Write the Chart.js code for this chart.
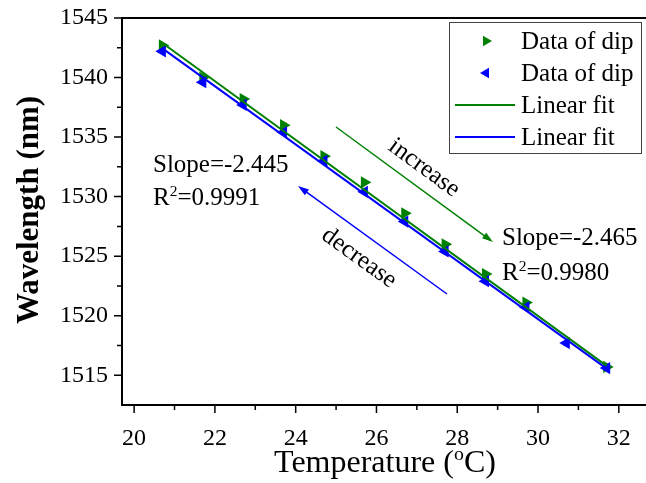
<!DOCTYPE html>
<html>
<head>
<meta charset="utf-8">
<script src="https://cdn.jsdelivr.net/npm/chart.js@4"></script>
<style>
  body { margin: 0; background: #fff; }
  #wrap { width: 646px; height: 483px; }
</style>
</head>
<body>
<div id="wrap"><canvas id="grafico" width="646" height="483"></canvas></div>
<script>
// temperatures (°C) and dip wavelengths (nm)
const temps = [20.7, 21.7, 22.7, 23.7, 24.7, 25.7, 26.7, 27.7, 28.7, 29.7, 30.7, 31.7]
const dipUp = [1542.7, 1540.0, 1538.2, 1536.0, 1533.4, 1531.2, 1528.6, 1526.0, 1523.5, 1521.1, null, 1515.7]
const dipDown = [1542.2, 1539.6, 1537.7, 1535.4, 1533.0, 1530.4, 1527.9, 1525.4, 1522.9, 1520.7, 1517.7, 1515.6]

// linear fits: slope and value at the first temperature
const slopeUp = -2.465
const slopeDown = -2.445
const fitStartUp = 1542.9
const fitStartDown = 1542.45
const r2Up = '0.9980'
const r2Down = '0.9991'

const xTicks = [20, 22, 24, 26, 28, 30, 32]
const xMinor = [21, 23, 25, 27, 29, 31]
const yTicks = [1515, 1520, 1525, 1530, 1535, 1540, 1545]
const yMinor = [1517.5, 1522.5, 1527.5, 1532.5, 1537.5, 1542.5]

const legendLabels = ['Data of dip', 'Data of dip', 'Linear fit', 'Linear fit']

const GREEN = 'rgb(0,128,0)'
const BLUE = 'rgb(0,0,255)'
const SERIF = "'Liberation Serif', 'Times New Roman', serif"

const pts = (ys) => temps.map((t, i) => ({ x: t, y: ys[i] })).filter(p => p.y !== null)
const fitLine = (start, slope) => {
    const t0 = temps[0], t1 = temps[temps.length - 1]
    return [{ x: t0, y: start }, { x: t1, y: start + slope * (t1 - t0) }]
}

// text with superscript pieces, e.g. R^2
const drawRich = (ctx, parts, x, y, size) => {
    let cx = x
    parts.forEach(p => {
        const s = p.sup ? size * 0.62 : size
        ctx.font = s + 'px ' + SERIF
        ctx.fillText(p.t, cx, p.sup ? y - size * 0.38 : y)
        cx += ctx.measureText(p.t).width
    })
    return cx - x
}
const richWidth = (ctx, parts, size) => {
    let w = 0
    parts.forEach(p => {
        ctx.font = (p.sup ? size * 0.62 : size) + 'px ' + SERIF
        w += ctx.measureText(p.t).width
    })
    return w
}

const arrow = (ctx, x0, y0, x1, y1, color) => {
    const a = Math.atan2(y1 - y0, x1 - x0)
    ctx.strokeStyle = color
    ctx.fillStyle = color
    ctx.lineWidth = 1.5
    ctx.beginPath()
    ctx.moveTo(x0, y0)
    ctx.lineTo(x1 - 8 * Math.cos(a), y1 - 8 * Math.sin(a))
    ctx.stroke()
    ctx.beginPath()
    ctx.moveTo(x1, y1)
    ctx.lineTo(x1 - 11 * Math.cos(a) + 3.5 * Math.sin(a), y1 - 11 * Math.sin(a) - 3.5 * Math.cos(a))
    ctx.lineTo(x1 - 11 * Math.cos(a) - 3.5 * Math.sin(a), y1 - 11 * Math.sin(a) + 3.5 * Math.cos(a))
    ctx.closePath()
    ctx.fill()
}

const rotatedText = (ctx, text, x, y, angle, font) => {
    ctx.save()
    ctx.translate(x, y)
    ctx.rotate(angle)
    ctx.font = font
    ctx.textAlign = 'center'
    ctx.textBaseline = 'middle'
    ctx.fillText(text, 0, 0)
    ctx.restore()
}

const decoracao = {
    id: 'decoracao',
    afterDraw(chart) {
        const ctx = chart.ctx
        const xs = chart.scales.x, ys = chart.scales.y
        const area = chart.chartArea
        ctx.save()
        ctx.fillStyle = '#000'
        ctx.strokeStyle = '#000'

        // top frame, and both horizontal lines run on to the page edge
        ctx.lineWidth = 2
        ctx.beginPath()
        ctx.moveTo(area.left, area.top)
        ctx.lineTo(chart.width, area.top)
        ctx.moveTo(area.right - 1, area.bottom)
        ctx.lineTo(chart.width, area.bottom)
        ctx.stroke()

        // outward ticks
        ctx.lineWidth = 1.5
        ctx.beginPath()
        xTicks.forEach(v => { const p = xs.getPixelForValue(v); ctx.moveTo(p, area.bottom); ctx.lineTo(p, area.bottom + 8) })
        xMinor.forEach(v => { const p = xs.getPixelForValue(v); ctx.moveTo(p, area.bottom); ctx.lineTo(p, area.bottom + 5) })
        yTicks.forEach(v => { const p = ys.getPixelForValue(v); ctx.moveTo(area.left, p); ctx.lineTo(area.left - 8, p) })
        yMinor.forEach(v => { const p = ys.getPixelForValue(v); ctx.moveTo(area.left, p); ctx.lineTo(area.left - 5, p) })
        ctx.stroke()

        // axis titles
        ctx.textBaseline = 'alphabetic'
        const tParts = [{ t: 'Temperature (' }, { t: 'o', sup: true }, { t: 'C)' }]
        const tw = richWidth(ctx, tParts, 32)
        drawRich(ctx, tParts, 385 - tw / 2, 472, 32)
        rotatedText(ctx, 'Wavelength (nm)', 30, 210, -Math.PI / 2, 'bold 31px ' + SERIF)

        // fit results
        ctx.fillStyle = '#000'
        ctx.font = '25px ' + SERIF
        ctx.textAlign = 'left'
        ctx.fillText('Slope=' + slopeDown, 153, 172)
        drawRich(ctx, [{ t: 'R' }, { t: '2', sup: true }, { t: '=' + r2Down }], 153, 205, 25)
        ctx.font = '25px ' + SERIF
        ctx.fillText('Slope=' + slopeUp, 502, 245)
        drawRich(ctx, [{ t: 'R' }, { t: '2', sup: true }, { t: '=' + r2Up }], 502, 280, 25)

        // direction arrows
        arrow(ctx, 336, 127, 493, 242, GREEN)
        arrow(ctx, 447, 294, 298, 186, BLUE)
        ctx.fillStyle = '#000'
        rotatedText(ctx, 'increase', 424, 168, Math.atan2(115, 157), '25px ' + SERIF)
        rotatedText(ctx, 'decrease', 359, 258, Math.atan2(107, 148), '25px ' + SERIF)

        // legend
        const lx = 449, ly = 22, lw = 192, lh = 131
        ctx.fillStyle = '#fff'
        ctx.fillRect(lx, ly, lw, lh)
        ctx.strokeStyle = '#444'
        ctx.lineWidth = 1
        ctx.strokeRect(lx + 0.5, ly + 0.5, lw, lh)
        const rows = [41, 73, 105, 137]
        const sets = chart.data.datasets
        rows.forEach((ry, i) => {
            const ds = sets[i]
            if (i < 2) {
                ctx.save()
                ctx.translate(486, ry)
                ctx.rotate(ds.pointRotation * Math.PI / 180)
                ctx.fillStyle = ds.backgroundColor
                ctx.beginPath()
                ctx.moveTo(0, -6)
                ctx.lineTo(5.2, 3)
                ctx.lineTo(-5.2, 3)
                ctx.closePath()
                ctx.fill()
                ctx.restore()
            } else {
                ctx.strokeStyle = ds.borderColor
                ctx.lineWidth = 2
                ctx.beginPath()
                ctx.moveTo(455, ry)
                ctx.lineTo(515, ry)
                ctx.stroke()
            }
            ctx.fillStyle = '#000'
            ctx.font = '25px ' + SERIF
            ctx.textAlign = 'left'
            ctx.textBaseline = 'middle'
            ctx.fillText(legendLabels[i], 521, ry + 1)
        })
        ctx.restore()
    }
}

const grafico = new Chart(document.getElementById('grafico'), {
    type: 'scatter',
    data: {
        datasets: [
            {
                label: legendLabels[0],
                data: pts(dipUp),
                pointStyle: 'triangle',
                pointRotation: 90,
                pointRadius: 7,
                backgroundColor: GREEN,
                borderColor: GREEN,
                borderWidth: 0,
                order: 3
            },
            {
                label: legendLabels[1],
                data: pts(dipDown),
                pointStyle: 'triangle',
                pointRotation: -90,
                pointRadius: 7,
                backgroundColor: BLUE,
                borderColor: BLUE,
                borderWidth: 0,
                order: 2
            },
            {
                type: 'line',
                label: legendLabels[2],
                data: fitLine(fitStartUp, slopeUp),
                borderColor: GREEN,
                borderWidth: 2,
                pointRadius: 0,
                fill: false,
                order: 1
            },
            {
                type: 'line',
                label: legendLabels[3],
                data: fitLine(fitStartDown, slopeDown),
                borderColor: BLUE,
                borderWidth: 2,
                pointRadius: 0,
                fill: false,
                order: 0
            }
        ]
    },
    options: {
        responsive: false,
        animation: false,
        layout: { padding: { top: 18, right: 0, left: 0, bottom: 0 } },
        plugins: { legend: { display: false }, tooltip: { enabled: false } },
        scales: {
            x: {
                type: 'linear',
                min: 19.7,
                max: 32.5,
                afterBuildTicks: s => { s.ticks = xTicks.map(v => ({ value: v })) },
                afterFit: s => { s.height = 78; s.paddingLeft = 0; s.paddingRight = 0 },
                grid: { display: false },
                border: { display: true, color: '#000', width: 2 },
                ticks: { color: '#000', font: { family: SERIF, size: 24 }, padding: 11, maxRotation: 0, callback: v => String(v) }
            },
            y: {
                type: 'linear',
                min: 1512.5,
                max: 1545,
                afterBuildTicks: s => { s.ticks = yTicks.map(v => ({ value: v })) },
                afterFit: s => { s.width = 122; s.paddingTop = 0; s.paddingBottom = 0 },
                grid: { display: false },
                border: { display: true, color: '#000', width: 2 },
                ticks: { color: '#000', font: { family: SERIF, size: 24 }, padding: 6, callback: v => String(v) }
            }
        }
    },
    plugins: [decoracao]
})
</script>
</body>
</html>
